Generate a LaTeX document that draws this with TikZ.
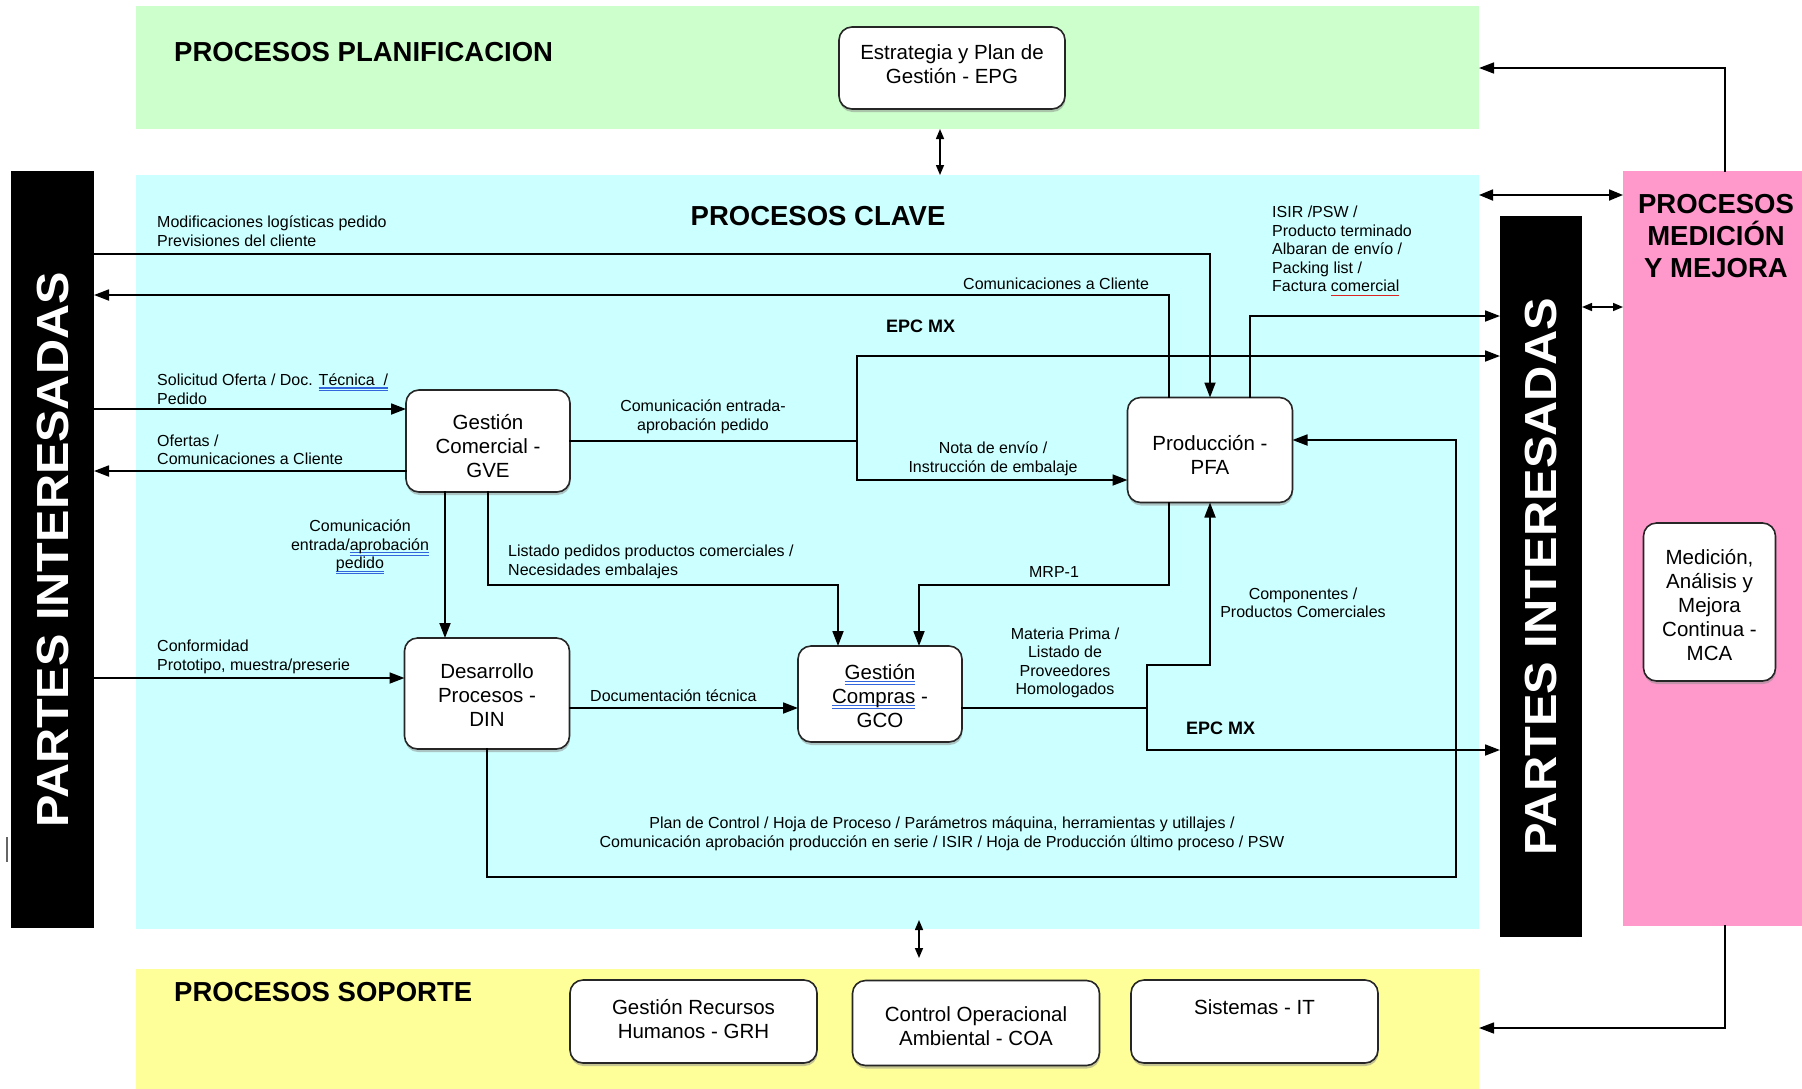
\documentclass[tikz,border=0pt]{standalone}
\usepackage{fontspec}
\setmainfont{Liberation Sans}
\usetikzlibrary{arrows.meta,shadows,calc}
\definecolor{cgreen}{HTML}{CCFFCC}
\definecolor{ccyan}{HTML}{CCFFFF}
\definecolor{cyel}{HTML}{FFFF99}
\definecolor{cpink}{HTML}{FF99CC}
\definecolor{ulblue}{HTML}{3366DD}
\definecolor{ulred}{HTML}{DD2222}
\newsavebox\ulbox
\newcommand\bul[1]{\sbox\ulbox{#1}\rlap{\color{ulblue}\rule[-3pt]{\wd\ulbox}{1.1pt}}\rlap{\color{ulblue}\rule[-5.5pt]{\wd\ulbox}{1.1pt}}\usebox\ulbox}
\newcommand\rul[1]{\sbox\ulbox{#1}\rlap{\color{ulred}\rule[-4pt]{\wd\ulbox}{1.2pt}}\usebox\ulbox}
\newcommand\labf{\fontsize{16}{18.5}\selectfont}
\newcommand\boxf{\fontsize{20.5}{24}\selectfont}
\newcommand\ttlf{\fontsize{27.5}{32}\selectfont\bfseries}
\newcommand\epcf{\fontsize{18}{20}\selectfont\bfseries}
\newcommand\barf{\fontsize{45}{50}\selectfont\bfseries}
\begin{document}
\begin{tikzpicture}[x=1pt,y=-1pt,
  band/.style={draw=none, inner sep=0pt, outer sep=0pt, anchor=north west},
  procbox/.style={draw=black!85, line width=1.6pt, rounded corners=13pt, fill=white, align=center, font=\boxf, inner sep=0pt, outer sep=0pt, drop shadow={shadow xshift=0.5pt, shadow yshift=-3pt, fill=black!45}},
  lbl/.style={font=\labf, inner sep=0pt, align=left},
  lblc/.style={font=\labf, inner sep=0pt, align=center},
  ttl/.style={font=\ttlf, inner sep=0pt},
  conn/.style={line width=1.8pt, line cap=rect},
  arr/.style={conn, -{Triangle[length=15pt,width=11pt]}},
  darr/.style={conn, {Triangle[length=14pt,width=11pt]}-{Triangle[length=14pt,width=11pt]}},
  sarr/.style={line width=1.5pt, {Triangle[length=10pt,width=8pt]}-{Triangle[length=10pt,width=8pt]}},
]
\useasboundingbox (0,0) rectangle (1802,1088);
\fill[white] (0,0) rectangle (1802,1088);

% bands
\node[band, fill=cgreen, minimum width=1343pt, minimum height=123pt] (plan) at (136,6) {};
\node[band, fill=ccyan, minimum width=1343pt, minimum height=754pt] (clave) at (136,175) {};
\node[band, fill=cyel, minimum width=1343pt, minimum height=120pt] (sop) at (136,969) {};
\node[band, fill=cpink, minimum width=180pt, minimum height=755pt] (pink) at (1623,171) {};
\node[band, fill=black, minimum width=83pt, minimum height=757pt] (lbar) at (11,171) {};
\node[band, fill=black, minimum width=82pt, minimum height=721pt] (rbar) at (1500,216) {};
\draw[black!60, line width=1.2pt] (7,837) -- (7,862);

% bar texts
\node[text=white, font=\barf, rotate=90, inner sep=0pt] (lbt) at (53,550) {\scalebox{1.08}[1]{PARTES INTERESADAS}};
\node[text=white, font=\barf, rotate=90, inner sep=0pt] (rbt) at (1541,577) {\scalebox{1.085}[1]{PARTES INTERESADAS}};

% titles
\node[ttl, anchor=west] (tplan) at (174,52) {PROCESOS PLANIFICACION};
\node[ttl] (tclave) at (818,216) {PROCESOS CLAVE};
\node[ttl, anchor=west] (tsop) at (174,992) {PROCESOS SOPORTE};
\node[ttl, align=center] (tpink) at (1716,236) {PROCESOS\\MEDICIÓN\\Y MEJORA};

% boxes
\node[procbox, minimum width=226pt, minimum height=82pt] (epg) at (952,68) {};
\node[lblc, font=\boxf] (tepg) at (952,64) {Estrategia y Plan de\\Gestión - EPG};
\node[procbox, minimum width=164pt, minimum height=102pt] (gve) at (488,441) {};
\node[lblc, font=\boxf] (tgve) at (488,446) {Gestión\\Comercial -\\GVE};
\node[procbox, minimum width=165pt, minimum height=105pt] (pfa) at (1210,450) {};
\node[lblc, font=\boxf] (tpfa) at (1210,455) {Producción -\\PFA};
\node[procbox, minimum width=165pt, minimum height=111pt] (din) at (487,693.5) {};
\node[lblc, font=\boxf] (tdin) at (487,695) {Desarrollo\\Procesos -\\DIN};
\node[procbox, minimum width=164pt, minimum height=96pt] (gco) at (880,694) {};
\node[lblc, font=\boxf] (tgco) at (880,696) {\bul{Gestión}\\\bul{Compras} -\\GCO};
\node[procbox, minimum width=247pt, minimum height=83pt] (grh) at (693.5,1021.5) {};
\node[lblc, font=\boxf] (tgrh) at (693.5,1019) {Gestión Recursos\\Humanos - GRH};
\node[procbox, minimum width=247pt, minimum height=85pt] (coa) at (976,1023) {};
\node[lblc, font=\boxf] (tcoa) at (976,1026) {Control Operacional\\Ambiental - COA};
\node[procbox, minimum width=247pt, minimum height=83pt] (it) at (1254.5,1021.5) {};
\node[lblc, font=\boxf] (tit) at (1254.5,1007) {Sistemas - IT};
\node[procbox, minimum width=132pt, minimum height=158pt] (mca) at (1709.5,602) {};
\node[lblc, font=\boxf] (tmca) at (1709.5,605) {Medición,\\Análisis y\\Mejora\\Continua -\\MCA};

% labels
\node[lbl, anchor=west] (lmod) at (157,231) {Modificaciones logísticas pedido\\Previsiones del cliente};
\node[lbl, anchor=west] (lcom) at (963,284) {Comunicaciones a Cliente};
\node[font=\epcf, inner sep=0pt, anchor=west] (lepc1) at (886,326) {EPC MX};
\node[lbl, anchor=west] (lisir) at (1272,251) {ISIR /PSW /\\Producto terminado\\Albaran de envío /\\Packing list /\\Factura \rul{comercial}};
\node[lblc] (lcea) at (703,417) {Comunicación entrada-\\aprobación pedido};
\node[lblc] (lnota) at (993,459) {Nota de envío /\\Instrucción de embalaje};
\node[lbl, anchor=west] (lsol) at (157,389) {Solicitud Oferta / Doc. \bul{Técnica\ \ /}\\Pedido};
\node[lbl, anchor=west] (lof) at (157,450) {Ofertas /\\Comunicaciones a Cliente};
\node[lblc] (lcea2) at (360,547) {Comunicación\\entrada/\bul{aprobación}\\\bul{pedido}};
\node[lbl, anchor=west] (llist) at (508,562) {Listado pedidos productos comerciales /\\Necesidades embalajes};
\node[lblc] (lmrp) at (1054,572) {MRP-1};
\node[lbl, anchor=west] (lconf) at (157,657) {Conformidad\\Prototipo, muestra/preserie};
\node[lbl, anchor=west] (ldoc) at (590,696) {Documentación técnica};
\node[lblc] (lmat) at (1065,663) {Materia Prima /\\Listado de\\Proveedores\\Homologados};
\node[lblc] (lcomp) at (1303,603) {Componentes /\\Productos Comerciales};
\node[font=\epcf, inner sep=0pt, anchor=west] (lepc2) at (1186,728) {EPC MX};
\node[lblc] (lplan) at (942,834) {Plan de Control / Hoja de Proceso / Parámetros máquina, herramientas y utillajes /\\Comunicación aprobación producción en serie / ISIR / Hoja de Producción último proceso / PSW};

% coordinates
\coordinate (yMod) at (0,254);
\coordinate (yCom) at (0,295);
\coordinate (yIsir) at (0,316);
\coordinate (yEpcA) at (0,356);
\coordinate (J) at (857,441);
\coordinate (yNota) at (0,480);
\coordinate (ySol) at (0,409);
\coordinate (yOf) at (0,471);
\coordinate (xCe) at (445,0);
\coordinate (cL) at (838,585);
\coordinate (cM) at (919,585);
\coordinate (yConf) at (0,678);
\coordinate (yDoc) at (0,708);
\coordinate (K) at (1147,708);
\coordinate (K2) at (1147,665);
\coordinate (yEpcB) at (0,750);
\coordinate (B) at (1456,877);
\coordinate (yPfaR) at (0,440);
\coordinate (xE) at (940,0);
\coordinate (s1) at (919,920);
\coordinate (s2) at (919,958);
\coordinate (xPk) at (1725,0);
\coordinate (yPk1) at (0,68);
\coordinate (yPk2) at (0,1028);
\coordinate (yCP) at (0,195);
\coordinate (ySm) at (0,307);

% connectors
\draw[arr] (lbar.east |- yMod) -| (pfa.north);
\draw[arr] ([xshift=-41pt]pfa.north) |- (lbar.east |- yCom);
\draw[arr] ([xshift=40pt]pfa.north) |- (rbar.west |- yIsir);
\draw[conn] (gve.east) -- (gve.east -| J);
\draw[arr] (J |- yEpcA) -- (rbar.west |- yEpcA);
\draw[arr] (J |- yEpcA) |- (pfa.west |- yNota);
\draw[arr] (lbar.east |- ySol) -- (gve.west |- ySol);
\draw[arr] (gve.west |- yOf) -- (lbar.east |- yOf);
\draw[arr] (gve.south -| xCe) -- (din.north -| xCe);
\draw[arr] (gve.south) |- (cL) -- (gco.north -| cL);
\draw[arr] ([xshift=-41pt]pfa.south) |- (cM) -- (gco.north -| cM);
\draw[arr] (lbar.east |- yConf) -- (din.west |- yConf);
\draw[arr] (din.east |- yDoc) -- (gco.west |- yDoc);
\draw[conn] (gco.east |- yDoc) -- (K);
\draw[arr] (K) -- (K2) -| (pfa.south);
\draw[arr] (K) |- (rbar.west |- yEpcB);
\draw[arr] (din.south) |- (B) |- (pfa.east |- yPfaR);
\draw[sarr] (plan.south -| xE) -- (clave.north -| xE);
\draw[sarr] (s1) -- (s2);
\draw[arr, line width=1.5pt] (pink.north -| xPk) |- (plan.east |- yPk1);
\draw[arr, line width=1.5pt] (pink.south -| xPk) |- (sop.east |- yPk2);
\draw[darr] (clave.east |- yCP) -- (pink.west |- yCP);
\draw[sarr] (rbar.east |- ySm) -- (pink.west |- ySm);
\end{tikzpicture}
\end{document}
